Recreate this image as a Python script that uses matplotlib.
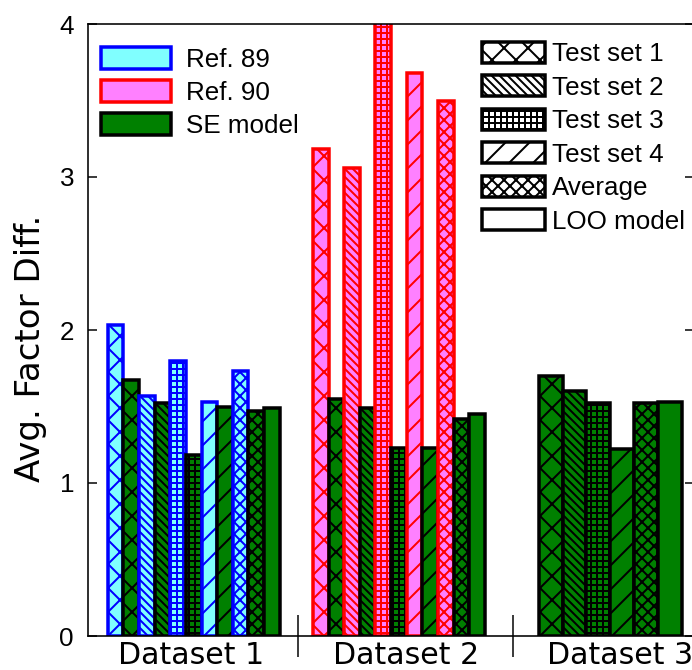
import numpy as np
import matplotlib
matplotlib.use("Agg")
import matplotlib.pyplot as plt
from matplotlib.patches import Patch

# values
groups = ["Dataset 1", "Dataset 2", "Dataset 3"]
set_names = ["Test set 1", "Test set 2", "Test set 3", "Test set 4", "Average", "LOO model"]
hatches = ["x", "\\\\\\", "++", "/", "xx", ""]

ref89_d1 = [2.03, 1.57, 1.80, 1.53, 1.73]
se_d1 = [1.67, 1.52, 1.18, 1.50, 1.47]
ref90_d2 = [3.18, 3.06, 4.20, 3.68, 3.50]
se_d2 = [1.55, 1.49, 1.23, 1.23, 1.42]
se_d3 = [1.70, 1.60, 1.52, 1.22, 1.52]
loo_vals = [1.49, 1.45, 1.53]

cyan, blue = "#80FFFF", "#0000FF"
pink, red = "#FF80FF", "#FF0000"
green = "#008000"

plt.rcParams["hatch.linewidth"] = 2.0

fig = plt.figure(figsize=(692 / 72, 670 / 72), dpi=72)
ax = fig.add_axes([88 / 692, 34 / 670, 606 / 692, 612 / 670])


def draw_group(center, step, ref_vals, se_vals, loo, ref_face, ref_edge):
    # build list of bars left to right: ref, SE alternate, LOO last
    bars = []
    for k, v in enumerate(se_vals):
        if ref_vals is not None:
            bars.append((ref_vals[k], ref_face, ref_edge, hatches[k]))
        bars.append((v, green, "black", hatches[k]))
    bars.append((loo, green, "black", ""))
    n = len(bars)
    for i, (h, fc, ec, ht) in enumerate(bars):
        x = center + (i - (n - 1) / 2) * step
        ax.bar(x, h, width=step, color=fc, edgecolor=ec, hatch=ht, linewidth=3.5)


draw_group(1.012, 0.0729, ref89_d1, se_d1, loo_vals[0], cyan, blue)
draw_group(1.969, 0.0729, ref90_d2, se_d2, loo_vals[1], pink, red)
draw_group(2.954, 0.111, None, se_d3, loo_vals[2], None, None)

ax.set_xlim(0.519, 3.345)
ax.set_ylim(0, 4)

for s in ax.spines.values():
    s.set_linewidth(1.6)

ax.set_yticks([0, 1, 2, 3, 4])
ax.tick_params(axis="y", direction="in", length=9, width=1.5, right=True, pad=14, labelsize=26)
for lbl in ax.get_yticklabels():
    lbl.set_fontfamily("Liberation Sans")

ax.set_xticks([1, 2, 3])
ax.set_xticklabels(groups, fontsize=30, fontfamily="DejaVu Sans")
ax.tick_params(axis="x", which="major", length=0, pad=5)
ax.set_xticks([1.5, 2.5], minor=True)
ax.tick_params(axis="x", which="minor", direction="inout", length=42, width=1.5)

ax.set_ylabel("Avg. Factor Diff.", fontsize=34, fontfamily="DejaVu Sans")
ax.yaxis.set_label_coords(-0.068, 0.47)

handles1 = [
    Patch(facecolor=cyan, edgecolor=blue, linewidth=3.5),
    Patch(facecolor=pink, edgecolor=red, linewidth=3.5),
    Patch(facecolor=green, edgecolor="black", linewidth=3.5),
]
leg1 = ax.legend(handles1, ["Ref. 89", "Ref. 90", "SE model"], loc="upper left",
                 bbox_to_anchor=(101 / 692, 1 - 47 / 670), bbox_transform=fig.transFigure,
                 frameon=False, borderpad=0, borderaxespad=0, handlelength=2.7,
                 handleheight=0.95, handletextpad=0.55, labelspacing=0.3,
                 prop={"family": "Liberation Sans", "size": 26})
ax.add_artist(leg1)

handles2 = [Patch(facecolor="white", edgecolor="black", hatch=h, linewidth=3.5) for h in hatches]
ax.legend(handles2, set_names, loc="upper left",
          bbox_to_anchor=(482 / 692, 1 - 42 / 670), bbox_transform=fig.transFigure,
          frameon=False, borderpad=0, borderaxespad=0, handlelength=2.42,
          handleheight=0.85, handletextpad=0.27, labelspacing=0.35,
          prop={"family": "Liberation Sans", "size": 26})

fig.savefig("out.png", dpi=72)
